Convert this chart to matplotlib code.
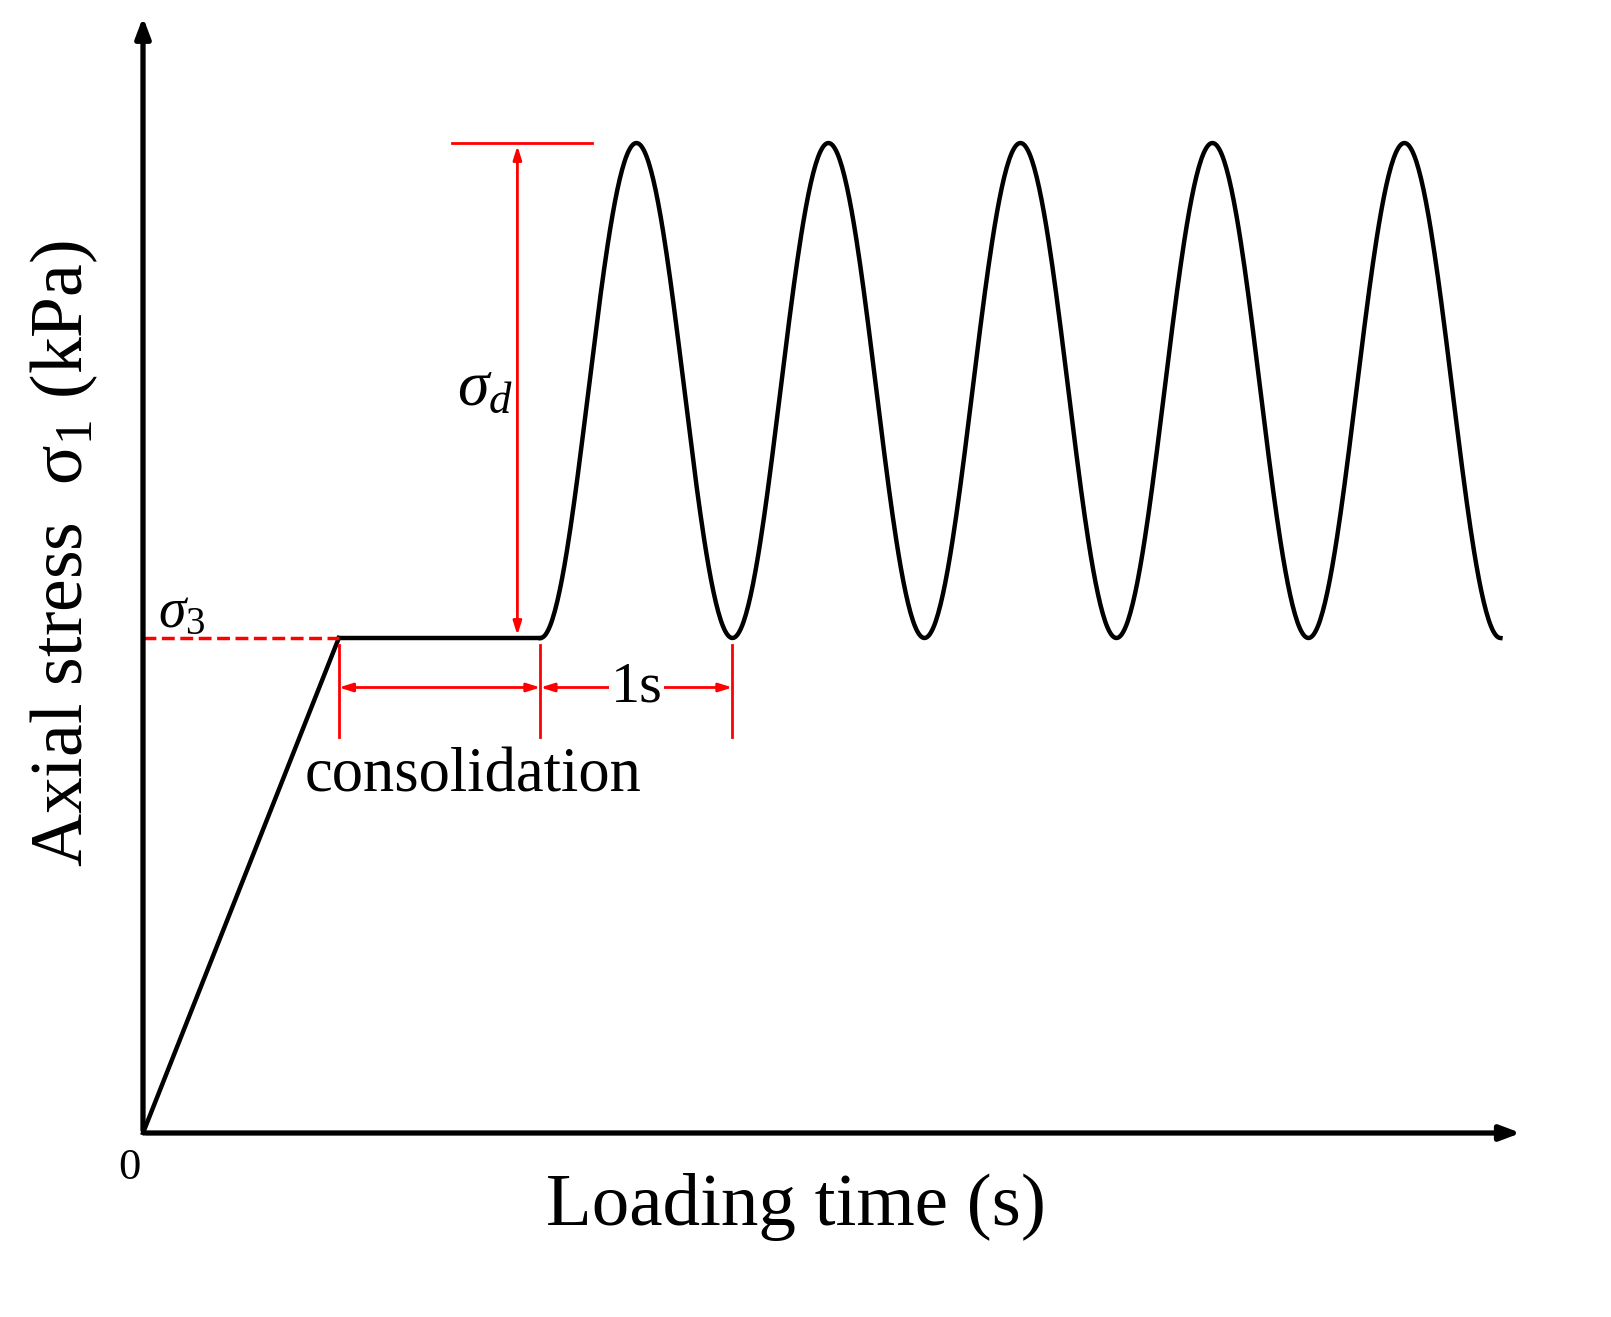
import numpy as np
import matplotlib
matplotlib.use("Agg")
import matplotlib.pyplot as plt

plt.rcParams["font.family"] = ["Liberation Serif", "DejaVu Serif"]
plt.rcParams["mathtext.fontset"] = "custom"
plt.rcParams["mathtext.rm"] = "Liberation Serif"
plt.rcParams["mathtext.it"] = "Liberation Serif:italic"

# schematic values (time in s, stress normalised by sigma_3)
sigma3 = 1.0
sigma_d = 1.0
ramp_end = 1.02
cons_end = 2.07
period = 1.0
n_cycles = 5

t_ramp = [0.0, ramp_end]
s_ramp = [0.0, sigma3]
t_cons = [ramp_end, cons_end]
s_cons = [sigma3, sigma3]
t_cyc = np.linspace(cons_end, cons_end + n_cycles * period, 800)
s_cyc = sigma3 + sigma_d * (1 - np.cos(2 * np.pi * (t_cyc - cons_end) / period)) / 2

fig = plt.figure(figsize=(16.11, 13.17), dpi=100)
ax = fig.add_axes([0, 0, 1, 1])
ax.set_xlim(-143 / 192, (1611 - 143) / 192)
ax.set_ylim(-(1317 - 1133) / 495, 1133 / 495)
ax.axis("off")

# axes arrows
arr = dict(arrowstyle="-|>,head_length=1.2,head_width=0.45", color="black", lw=3.8)
ax.annotate("", xy=(7.19, 0), xytext=(0, 0), arrowprops=arr)
ax.annotate("", xy=(0, 2.26), xytext=(0, 0), arrowprops=arr)

ax.plot(t_ramp, s_ramp, color="black", lw=3.2)
ax.plot(t_cons, s_cons, color="black", lw=3.2)
ax.plot(t_cyc, s_cyc, color="black", lw=3.2)

red = "#ff0000"
ax.plot([0, ramp_end], [sigma3, sigma3], color=red, lw=2.5, ls="--")
ax.plot([1.61, 2.34], [sigma3 + sigma_d] * 2, color=red, lw=2)
ax.annotate("", xy=(1.95, sigma3 + sigma_d), xytext=(1.95, sigma3),
            arrowprops=dict(arrowstyle="<|-|>,head_length=0.8,head_width=0.25", color=red, lw=2))
for xv in [ramp_end, cons_end, cons_end + period]:
    ax.plot([xv, xv], [0.985, 0.80], color=red, lw=2)
darr = dict(arrowstyle="<|-|>,head_length=0.8,head_width=0.25", color=red, lw=2, shrinkA=0, shrinkB=0)
ax.annotate("", xy=(cons_end, 0.9), xytext=(ramp_end, 0.9), arrowprops=darr)
ax.annotate("", xy=(cons_end + period, 0.9), xytext=(cons_end, 0.9), arrowprops=darr)

ax.text(cons_end + period / 2, 0.9, "1s", fontsize=42, ha="center", va="center",
        bbox=dict(facecolor="white", edgecolor="none", pad=1))
ax.text(1.72, 0.72, "consolidation", fontsize=45, ha="center", va="center")
ax.text(1.78, 1.5, r"$\sigma_d$", fontsize=46, ha="center", va="center")
ax.text(0.2, 1.05, r"$\sigma_3$", fontsize=40, ha="center", va="center")
ax.text(-0.07, -0.07, "0", fontsize=32, ha="center", va="center")
ax.text(3.4, -0.15, "Loading time (s)", fontsize=54, ha="center", va="center")
ax.text(-0.41, 1.17, r"Axial stress  $\mathrm{\sigma}_1$ (kPa)", fontsize=53,
        ha="center", va="center", rotation=90)

fig.savefig("out.png", dpi=100)
